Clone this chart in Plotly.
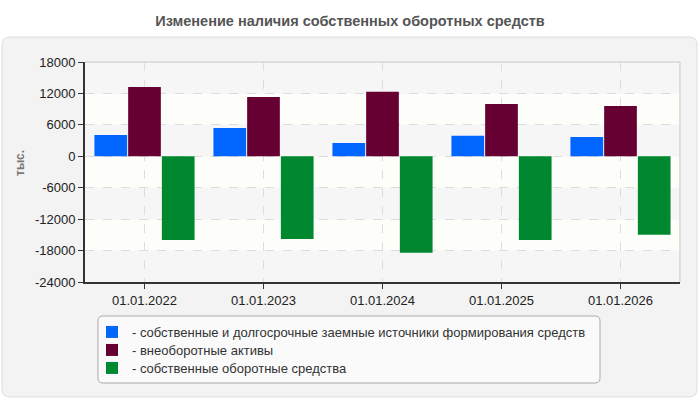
import plotly.graph_objects as go

categories = ["01.01.2022", "01.01.2023", "01.01.2024", "01.01.2025", "01.01.2026"]
series_names = [
    "- собственные и долгосрочные заемные источники формирования средств",
    "- внеоборотные активы",
    "- собственные оборотные средства",
]
own_and_long = [4050, 5400, 2550, 3900, 3700]
noncurrent = [13250, 11300, 12300, 10000, 9600]
working_capital = [-16000, -15800, -18400, -16000, -15000]
y_ticks = [18000, 12000, 6000, 0, -6000, -12000, -18000, -24000]

colors = ["#0066ff", "#660033", "#008830"]

W, H = 700, 400
ML, MR, MT, MB = 85, 20, 62, 118
PW, PH = W - ML - MR, H - MT - MB


def px(x):
    return (x - ML) / PW


def py(y):
    return (H - MB - y) / PH


def rrect(x0, y0, x1, y1, r):
    rx, ry = r / PW, r / PH
    a0, a1 = px(x0), px(x1)
    b0, b1 = py(y0), py(y1)  # b0 top, b1 bottom
    return (f"M{a0+rx},{b0} L{a1-rx},{b0} Q{a1},{b0} {a1},{b0-ry} "
            f"L{a1},{b1+ry} Q{a1},{b1} {a1-rx},{b1} L{a0+rx},{b1} "
            f"Q{a0},{b1} {a0},{b1+ry} L{a0},{b0-ry} Q{a0},{b0} {a0+rx},{b0} Z")


legend_ids = ["legend", "legend2", "legend3"]
legend_rows = [332, 350, 368]

fig = go.Figure()
for name, vals, c, lg in zip(series_names, [own_and_long, noncurrent, working_capital], colors, legend_ids):
    fig.add_trace(go.Bar(x=categories, y=vals, name=name, legend=lg,
                         marker=dict(color=c, line=dict(width=0))))

shapes = []
# outer panel
shapes.append(dict(type="path", xref="paper", yref="paper", path=rrect(2, 37, 697, 397, 8),
                   fillcolor="#f3f3f3", line=dict(color="#dddddd", width=1), layer="below"))
# background bands
ts = sorted(y_ticks)
for i in range(len(ts) - 1):
    hatched = (i % 2 == 0)
    shapes.append(dict(type="rect", xref="paper", yref="y", x0=0, x1=1, y0=ts[i], y1=ts[i + 1],
                       fillcolor="#f6f6f6" if hatched else "#fdfdfa", line=dict(width=0), layer="below"))
# top/right border
shapes.append(dict(type="line", xref="paper", yref="paper", x0=0, x1=1, y0=1, y1=1,
                   line=dict(color="#dddddd", width=2)))
shapes.append(dict(type="line", xref="paper", yref="paper", x0=1, x1=1, y0=0, y1=1,
                   line=dict(color="#dddddd", width=2)))
# legend box
shapes.append(dict(type="path", xref="paper", yref="paper", path=rrect(98, 316, 600, 383, 5),
                   fillcolor="#fafafa", line=dict(color="#aaaaaa", width=1), layer="below"))

legend_common = dict(xanchor="left", yanchor="middle", bgcolor="rgba(0,0,0,0)", borderwidth=0,
                     font=dict(size=13, color="#333333"), itemwidth=30)

layout_legends = {}
for lg, row in zip(legend_ids, legend_rows):
    layout_legends[lg] = dict(x=px(92), y=py(row), **legend_common)

fig.update_layout(
    width=W, height=H,
    margin=dict(l=ML, r=MR, t=MT, b=MB, autoexpand=False),
    paper_bgcolor="white",
    plot_bgcolor="rgba(0,0,0,0)",
    barmode="group", bargap=0.15, bargroupgap=0.03,
    font=dict(family="Liberation Sans, Arial, sans-serif", color="#333333", size=13),
    title=dict(text="<b>Изменение наличия собственных оборотных средств</b>",
               x=0.5, xref="container", xanchor="center", y=1 - 21 / H, yanchor="middle",
               font=dict(size=14.5, color="#555555")),
    shapes=shapes,
    annotations=[dict(text="<b>тыс.</b>", xref="paper", yref="paper", x=px(20), y=py(163),
                      xanchor="center", yanchor="middle", textangle=-90, showarrow=False,
                      font=dict(size=12, color="#777777"))],
    showlegend=True,
    xaxis=dict(showgrid=True, gridcolor="#dddddd", griddash="dash", gridwidth=1, automargin=False,
               showline=True, linecolor="#333333", linewidth=2, ticks="outside", ticklen=5,
               tickcolor="#333333", tickfont=dict(size=13, color="#222222")),
    yaxis=dict(range=[-24000, 18000], tickvals=y_ticks, ticktext=[str(v) for v in y_ticks],
               showgrid=True, gridcolor="#dddddd", griddash="dash", gridwidth=1, automargin=False,
               zeroline=False, showline=True, linecolor="#333333", linewidth=2,
               ticks="outside", ticklen=5, tickcolor="#333333",
               tickfont=dict(size=13, color="#222222")),
    **layout_legends,
)

fig.write_html("out.html")
